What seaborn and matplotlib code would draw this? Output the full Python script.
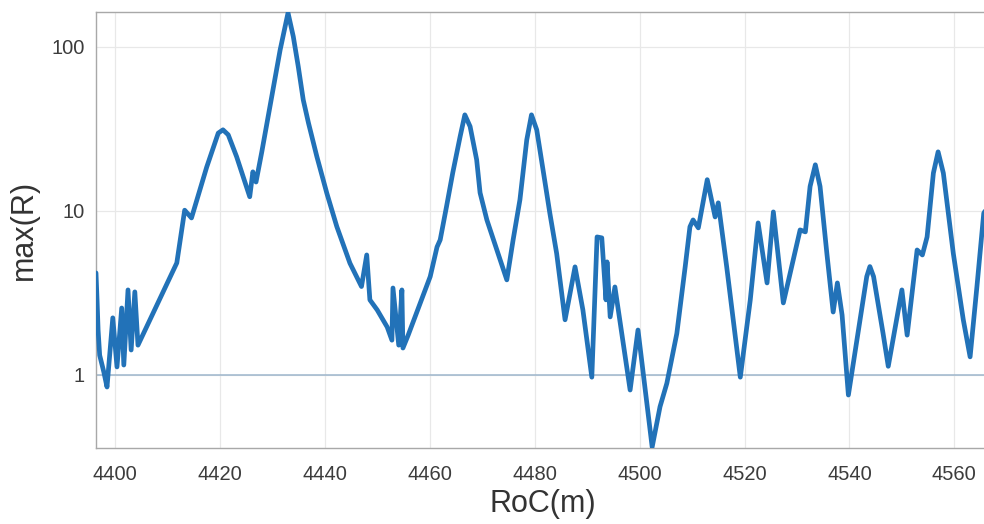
import pandas as pd
import seaborn as sns
import matplotlib
matplotlib.use("Agg")
import matplotlib.pyplot as plt
from matplotlib.ticker import FixedLocator, NullLocator

# values (RoC in m, max(R) on log scale)
roc = [4396.4, 4396.6, 4396.8, 4397.1, 4397.9, 4398.5, 4399.6, 4400.4, 4401.3, 4401.7,
       4402.5, 4403.1, 4403.8, 4404.4, 4411.8, 4413.3, 4414.6, 4417.5, 4419.7, 4420.6,
       4421.6, 4423.2, 4425.7, 4426.3, 4426.9, 4428.0, 4431.5, 4433.0, 4434.0, 4434.95,
       4435.9, 4436.9, 4438.5, 4440.4, 4442.3, 4444.8, 4447.0, 4448.0, 4448.6, 4450.0,
       4451.9, 4452.8, 4453.0, 4454.1, 4454.7, 4454.9, 4455.9, 4460.1, 4461.4, 4462.0,
       4463.2, 4464.4, 4465.8, 4466.7, 4467.7, 4468.95, 4469.6, 4470.9, 4474.7, 4475.9,
       4477.2, 4478.5, 4479.4, 4480.4, 4481.7, 4482.9, 4484.2, 4485.8, 4487.7, 4489.2,
       4490.9, 4491.9, 4492.8, 4493.6, 4493.8, 4494.4, 4495.3, 4498.2, 4499.7, 4502.4,
       4503.9, 4505.2, 4507.1, 4508.7, 4509.6, 4510.2, 4511.2, 4512.9, 4514.4, 4515.0,
       4516.6, 4519.2, 4521.1, 4522.6, 4524.3, 4525.5, 4527.4, 4530.6, 4531.6, 4532.5,
       4533.5, 4534.4, 4535.7, 4536.9, 4537.7, 4538.6, 4539.8, 4543.3, 4543.9, 4544.6,
       4546.4, 4547.4, 4550.0, 4551.0, 4552.9, 4553.9, 4554.8, 4556.0, 4556.9, 4557.9,
       4559.8, 4561.7, 4563.0, 4564.3, 4565.6, 4567.0]
max_r = [4.19, 2.87, 1.88, 1.32, 1.04, 0.845, 2.23, 1.12, 2.56, 1.15,
         3.30, 1.42, 3.21, 1.52, 4.82, 10.1, 9.06, 18.5, 29.8, 31.2,
         29.1, 21.4, 12.2, 17.3, 15.0, 22.9, 95.9, 161.0, 115.6, 75.8,
         47.5, 34.3, 21.4, 12.8, 8.02, 4.80, 3.46, 5.39, 2.87, 2.49,
         1.96, 1.63, 3.39, 1.52, 3.30, 1.46, 1.75, 3.98, 6.03, 6.66,
         10.6, 17.1, 28.4, 38.5, 32.7, 20.5, 12.9, 8.81, 3.80, 6.66,
         11.7, 27.1, 38.5, 31.2, 17.0, 9.68, 5.50, 2.17, 4.56, 2.49,
         0.97, 6.94, 6.85, 2.87, 4.89, 2.26, 3.44, 0.81, 1.88, 0.364,
         0.641, 0.89, 1.79, 4.58, 8.00, 8.81, 7.88, 15.5, 9.19, 11.2,
         4.58, 0.97, 2.87, 8.45, 3.64, 9.86, 2.75, 7.66, 7.45, 14.1,
         19.1, 14.1, 5.50, 2.42, 3.64, 2.32, 0.755, 3.98, 4.58, 3.98,
         1.80, 1.13, 3.30, 1.75, 5.78, 5.39, 6.94, 17.0, 22.9, 17.0,
         5.50, 2.17, 1.29, 3.46, 9.68, 11.5]

x_ticks = [4400, 4420, 4440, 4460, 4480, 4500, 4520, 4540, 4560]
y_ticks = [1, 10, 100]
y_tick_labels = ['1', '10', '100']

df = pd.DataFrame({'RoC': roc, 'maxR': max_r})

sns.set_style('white')
plt.rcParams['font.family'] = ['Liberation Sans', 'DejaVu Sans']

fig = plt.figure(figsize=(9.84, 5.24), dpi=100)
ax = fig.add_axes([96 / 984, 76 / 524, 893 / 984, 436 / 524])

ax.set_yscale('log')
ax.axhline(1, color='#9db6cc', lw=1.1, zorder=1)
sns.lineplot(data=df, x='RoC', y='maxR', ax=ax, sort=False, estimator=None,
             color='#2272b8', lw=3.4, zorder=3, solid_joinstyle='round')

ax.set_xlim(4396.4, 4566.6)
ax.set_ylim(0.359, 163)
ax.xaxis.set_major_locator(FixedLocator(x_ticks))
ax.yaxis.set_major_locator(FixedLocator(y_ticks))
ax.yaxis.set_minor_locator(NullLocator())
ax.set_yticklabels(y_tick_labels)

ax.grid(True, color='#e8e8e8', lw=0.9, zorder=0)
ax.set_axisbelow(True)
for side in ['left', 'bottom', 'top', 'right']:
    ax.spines[side].set_color('#a8a8a8')
    ax.spines[side].set_linewidth(1.0)

ax.tick_params(axis='both', direction='in', length=4, color='#a8a8a8',
               labelsize=14.5, labelcolor='#3c3c3c')
ax.tick_params(axis='x', pad=12)
ax.tick_params(axis='y', pad=8)

ax.set_xlabel('RoC(m)', fontsize=22, color='#333333', labelpad=4)
ax.set_ylabel('max(R)', fontsize=22, color='#333333', labelpad=9)

plt.savefig('out.png', dpi=100)
